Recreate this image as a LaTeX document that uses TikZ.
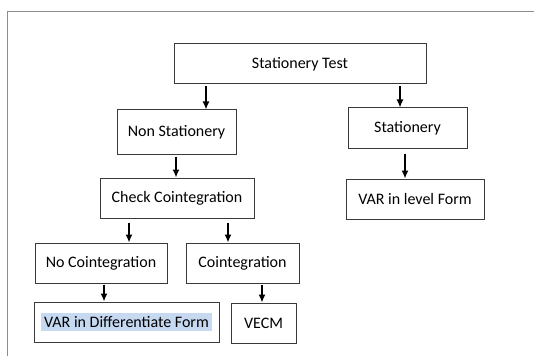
\documentclass[tikz,border=0pt]{standalone}
\usepackage{fontspec}
\setmainfont{Carlito}
\usepackage{tikz}
\usetikzlibrary{positioning,arrows.meta,calc}
\definecolor{hlblue}{HTML}{C6D9F1}
\definecolor{boxline}{HTML}{3A3A3A}
\tikzset{
    x=1pt,
    y=-1pt,
    box/.style = {
        draw=boxline,
        shape=rectangle,
        minimum height=40pt,
        line width=1pt,
        inner sep=0pt,
        font=\fontsize{16}{19}\selectfont
    },
    frame/.style = {
        draw=black!45,
        line width=0.8pt
    },
    arr/.style = {
        draw,
        ->,
        line width=1.4pt,
        shorten <=2pt
    },
    >={Latex[length=8pt,width=7pt]},
}
\setlength{\fboxsep}{3pt}

\begin{document}
\begin{tikzpicture}
            \useasboundingbox (0,0) rectangle (534,358);
            \path[frame] (534,11) -- (7,11) -- (7,356);

            \node[box, minimum width=252pt] (test) at (300,64) {Stationery Test};
            \node[box, minimum width=119pt, minimum height=44pt] (nonstat) at (176.5,132) {Non Stationery};
            \node[box, minimum width=119pt] (stat) at (407.5,128) {Stationery};
            \node[box, minimum width=154pt] (check) at (177,198) {Check Cointegration};
            \node[box, minimum width=138pt] (varlevel) at (415,199) {VAR in level Form};
            \node[box, minimum width=132pt] (nocoint) at (101,263) {No Cointegration};
            \node[box, minimum width=113pt] (coint) at (242.5,263) {Cointegration};
            \node[box, minimum width=185pt] (vardiff) at (126.5,322) {\colorbox{hlblue}{VAR in Differentiate Form}};
            \node[box, minimum width=65pt] (vecm) at (263.5,323) {VECM};

            \path[arr] (test.south -| 206,0) -- (nonstat.north -| 206,0);
            \path[arr] (test.south -| 400,0) -- (stat.north -| 400,0);
            \path[arr] (nonstat.south -| 176,0) -- (check.north -| 176,0);
            \path[arr, shorten <=5pt] (stat.south -| 405,0) -- (varlevel.north -| 405,0);
            \path[arr, shorten <=4pt] (check.south -| 129,0) -- (nocoint.north -| 129,0);
            \path[arr, shorten <=4pt] (check.south -| 228,0) -- (coint.north -| 228,0);
            \path[arr, shorten <=1pt] (nocoint.south -| 104,0) -- (vardiff.north -| 104,0);
            \path[arr, shorten <=1pt] (coint.south -| 262,0) -- (vecm.north -| 262,0);
        \end{tikzpicture}
\end{document}
